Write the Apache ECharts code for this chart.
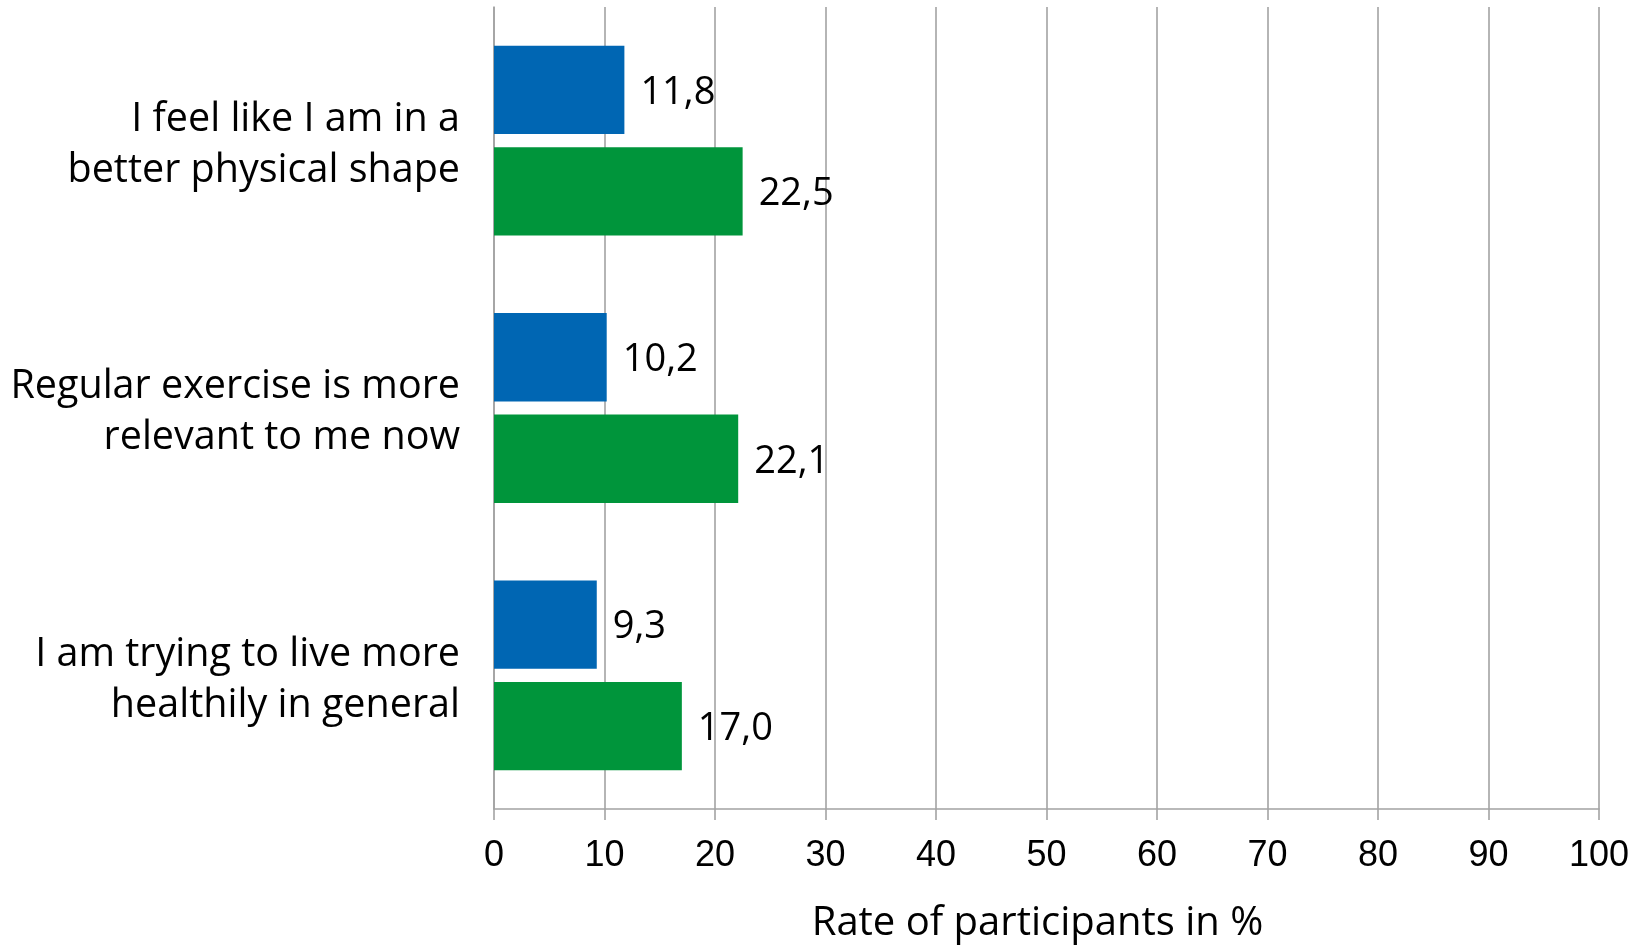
<!DOCTYPE html>
<html>
<head>
<meta charset="utf-8">
<script src="https://cdn.jsdelivr.net/npm/echarts@6/dist/echarts.min.js"></script>
<style>
  html, body { margin: 0; padding: 0; background: #ffffff; }
  #chart { width: 1645px; height: 945px; }
</style>
</head>
<body>
<div id="chart"></div>
<script>
// Statements about exercise, top to bottom
const categories = [
  'I feel like I am in a\nbetter physical shape',
  'Regular exercise is more\nrelevant to me now',
  'I am trying to live more\nhealthily in general'
];
// Share of participants (%) per statement, two groups
const seriesBlue = [11.8, 10.2, 9.3];
const seriesGreen = [22.5, 22.1, 17.0];
// Value axis ticks
const xTicks = [0, 10, 20, 30, 40, 50, 60, 70, 80, 90, 100];
const xAxisTitle = 'Rate of participants in %';

const textFont = '"Open Sans", "DejaVu Sans", sans-serif';
const tickFont = '"Liberation Sans", Arial, sans-serif';
const gridGrey = '#a3a3a3';

const fmt = p => p.value.toFixed(1).replace('.', ',');
// Category text as rich lines, with a thin spacer line on top to sit the block a bit lower
const catFmt = v => '{s| }\n' + v.split('\n').map(l => '{t|' + l + '}').join('\n');

const chart = echarts.init(document.getElementById('chart'), null, { renderer: 'canvas' });
chart.setOption({
  backgroundColor: '#ffffff',
  animation: false,
  grid: {
    left: 494, right: 46, top: 7, bottom: 136,
    containLabel: false, outerBoundsMode: 'none'
  },
  xAxis: {
    type: 'value',
    min: xTicks[0],
    max: xTicks[xTicks.length - 1],
    interval: xTicks[1] - xTicks[0],
    name: xAxisTitle,
    nameLocation: 'middle',
    nameGap: 95,
    nameTextStyle: { fontFamily: textFont, fontSize: 40, color: '#000', padding: [0, 18, 0, 0] },
    axisLine: { show: true, lineStyle: { color: gridGrey, width: 1.6 } },
    axisTick: { show: true, length: 11, lineStyle: { color: gridGrey, width: 1.6 } },
    axisLabel: { fontFamily: tickFont, fontSize: 36, color: '#000', margin: 29 },
    splitLine: { show: true, lineStyle: { color: gridGrey, width: 1.6 } }
  },
  yAxis: {
    type: 'category',
    inverse: true,
    data: categories,
    axisLine: { show: true, lineStyle: { color: gridGrey, width: 1.6 } },
    axisTick: { show: false },
    axisLabel: {
      formatter: catFmt,
      margin: 34, align: 'right',
      rich: {
        s: { fontSize: 1, lineHeight: 9 },
        t: { fontFamily: textFont, fontSize: 39.5, color: '#000', lineHeight: 51, align: 'right' }
      }
    },
    splitLine: { show: false }
  },
  series: [
    {
      name: 'Group 1',
      type: 'bar',
      data: seriesBlue,
      itemStyle: { color: '#0066b3' },
      barGap: '15%',
      barCategoryGap: '29%',
      label: {
        show: true, position: 'right', distance: 16, offset: [0, 3], formatter: fmt,
        fontFamily: textFont, fontSize: 38, color: '#000'
      }
    },
    {
      name: 'Group 2',
      type: 'bar',
      data: seriesGreen,
      itemStyle: { color: '#00953b' },
      barGap: '15%',
      barCategoryGap: '29%',
      label: {
        show: true, position: 'right', distance: 16, offset: [0, 3], formatter: fmt,
        fontFamily: textFont, fontSize: 38, color: '#000'
      }
    }
  ]
});
</script>
</body>
</html>
